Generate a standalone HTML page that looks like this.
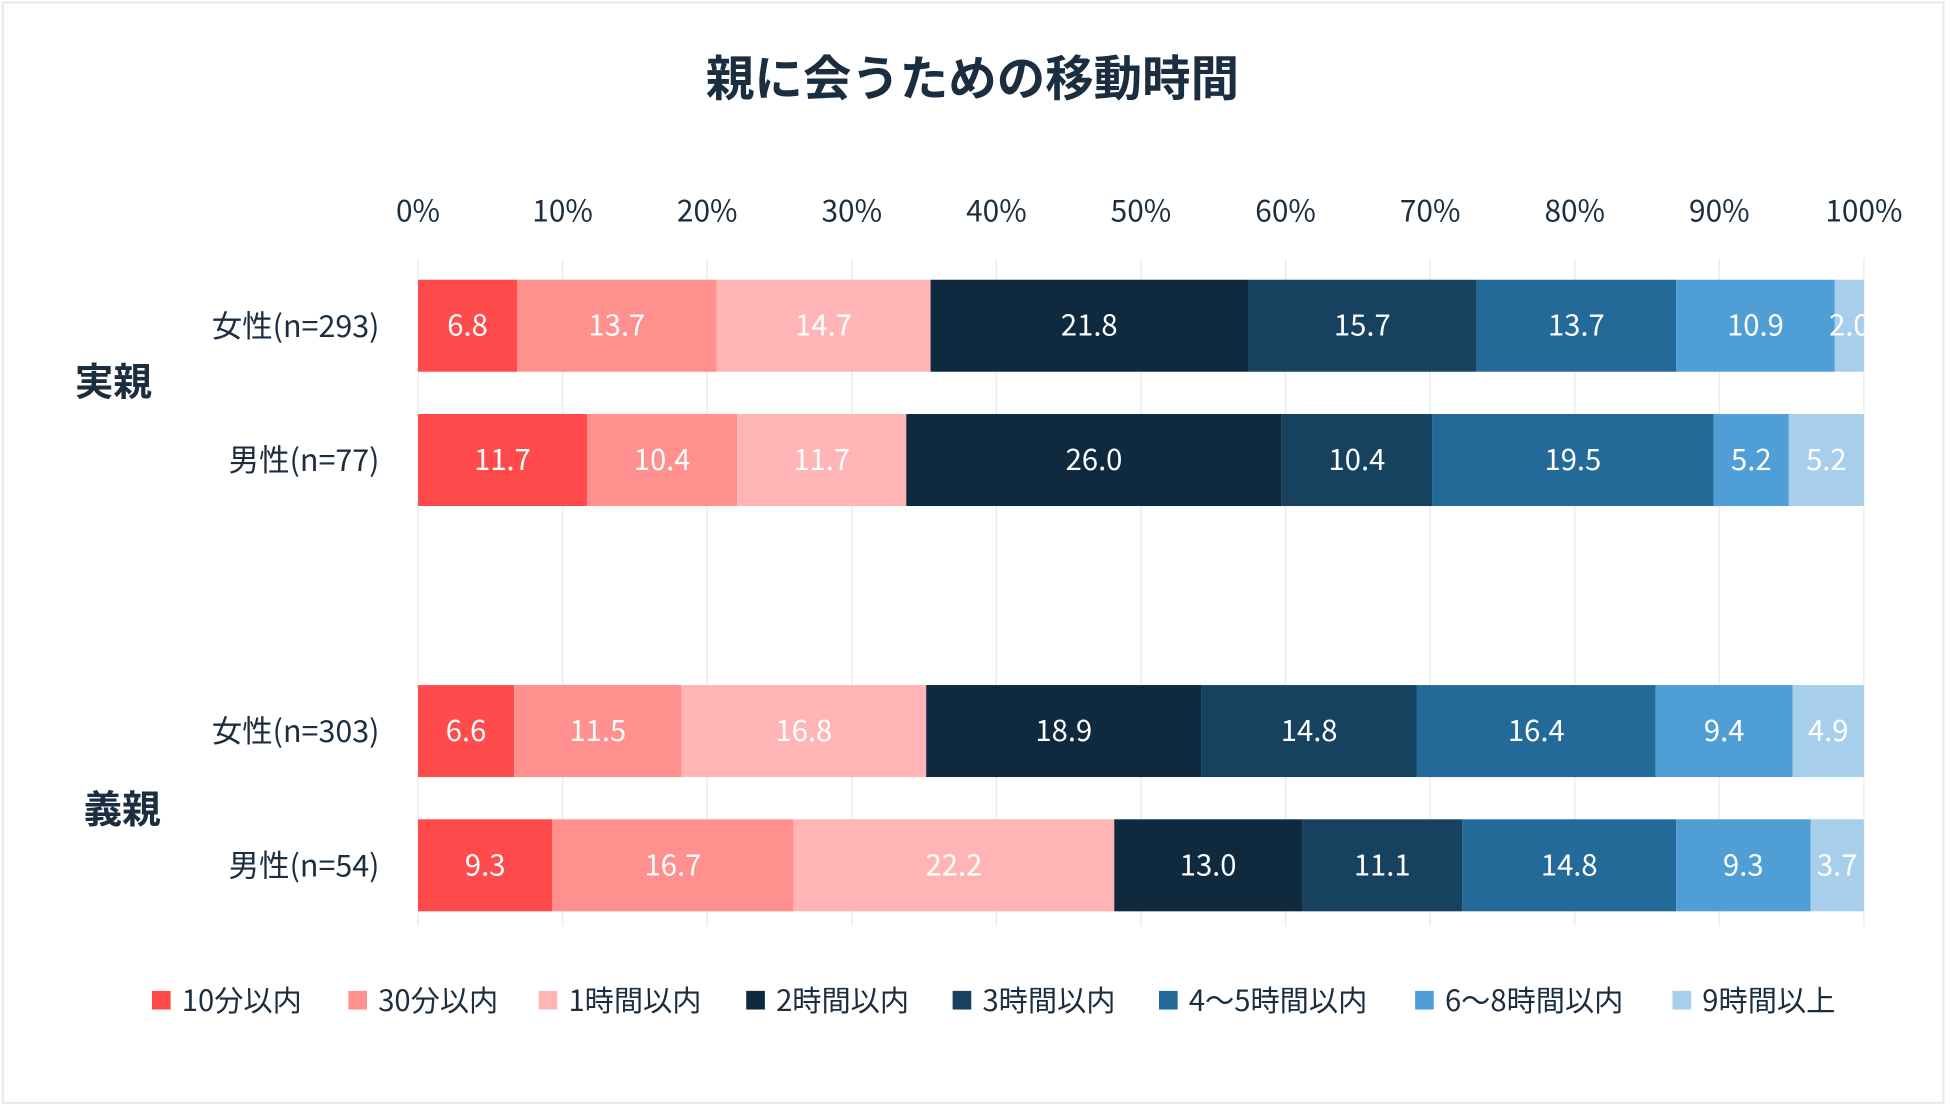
<!DOCTYPE html>
<html><head><meta charset="utf-8">
<style>
html,body{margin:0;padding:0;background:#fff;}
svg{display:block;font-family:"Noto Sans CJK JP","Liberation Sans",sans-serif;}
</style></head>
<body>
<svg id="chart" width="1950" height="1109" viewBox="0 0 1568 892" xmlns="http://www.w3.org/2000/svg">
<rect x="2" y="2" width="1561" height="885" fill="#fff" stroke="#e6e6e6" stroke-width="1.5"/>
<text x="782" y="77" text-anchor="middle" font-size="39" font-weight="bold" fill="#1a2e40">親に会うための移動時間</text>
<defs><clipPath id="plotclip"><rect x="336" y="200" width="1163" height="560"/></clipPath></defs>
<g id="grid"></g>
<g id="bars" clip-path="url(#plotclip)"></g>
<g id="labels"></g>
<text x="91" y="318" text-anchor="middle" font-size="31" font-weight="bold" fill="#1a2e40">実親</text>
<text x="98" y="662" text-anchor="middle" font-size="31" font-weight="bold" fill="#1a2e40">義親</text>
<g id="legend"></g>
</svg>
<script>
const categories = ["女性(n=293)","男性(n=77)","女性(n=303)","男性(n=54)"];
const seriesNames = ["10分以内","30分以内","1時間以内","2時間以内","3時間以内","4〜5時間以内","6〜8時間以内","9時間以上"];
const row1 = [6.8,13.7,14.7,21.8,15.7,13.7,10.9,2.0];
const row2 = [11.7,10.4,11.7,26.0,10.4,19.5,5.2,5.2];
const row3 = [6.6,11.5,16.8,18.9,14.8,16.4,9.4,4.9];
const row4 = [9.3,16.7,22.2,13.0,11.1,14.8,9.3,3.7];
const tickValues = [0,10,20,30,40,50,60,70,80,90,100];
const rows = [row1,row2,row3,row4];
const colors = ["#ff4b4b","#ff908e","#ffb5b5","#0f2a3e","#17425f","#236a99","#4f9fd6","#a7cfec"];
const rowY = [225,333,551,659];
const barH = 74;
const x0 = 336, x1 = 1499;
const xs = v => x0 + (x1-x0)*v/100;
const NS = "http://www.w3.org/2000/svg";
function mk(tag, attrs, parent){const e=document.createElementNS(NS,tag);for(const k in attrs)e.setAttribute(k,attrs[k]);parent.appendChild(e);return e;}
const grid=document.getElementById('grid'), bars=document.getElementById('bars'), labels=document.getElementById('labels'), legend=document.getElementById('legend');
tickValues.forEach(t=>{
  const l=mk('line',{x1:xs(t),x2:xs(t),y1:208,y2:745,stroke:'#ececec','stroke-width':1.2},grid);
  
  
  const tx=mk('text',{x:xs(t),y:178,'text-anchor':'middle','font-size':24,fill:'#1a2e40'},labels);
  tx.textContent=t+'%';
  
  
});
rows.forEach((r,i)=>{
  const sum=r.reduce((a,b)=>a+b,0);
  let acc=0;
  const y=rowY[i];
  const cl=mk('text',{x:305,y:y+barH/2+9,'text-anchor':'end','font-size':24.5,fill:'#1a2e40'},labels);
  cl.textContent=categories[i];
  
  
  r.forEach((v,j)=>{
    const a=xs(acc/sum*100), b=xs((acc+v)/sum*100);
    const rc=mk('rect',{x:a,y:y,width:b-a,height:barH,fill:colors[j]},bars);
    
    
    const tx=mk('text',{x:(a+b)/2,y:y+barH/2+8,'text-anchor':'middle','font-size':23.5,fill:'#fff'},bars);
    tx.textContent=v.toFixed(1);
    
    
    acc+=v;
  });
});
const legendX=[122,280,433,600,766,932,1138,1345];
seriesNames.forEach((n,j)=>{
  const g=mk('g',{},legend);
  
  
  mk('rect',{x:legendX[j],y:797,width:15,height:15,fill:colors[j]},g);
  const t=mk('text',{x:legendX[j]+24,y:813,'font-size':23.5,fill:'#1a2e40'},g);
  t.textContent=n;
});
</script>
</body></html>
